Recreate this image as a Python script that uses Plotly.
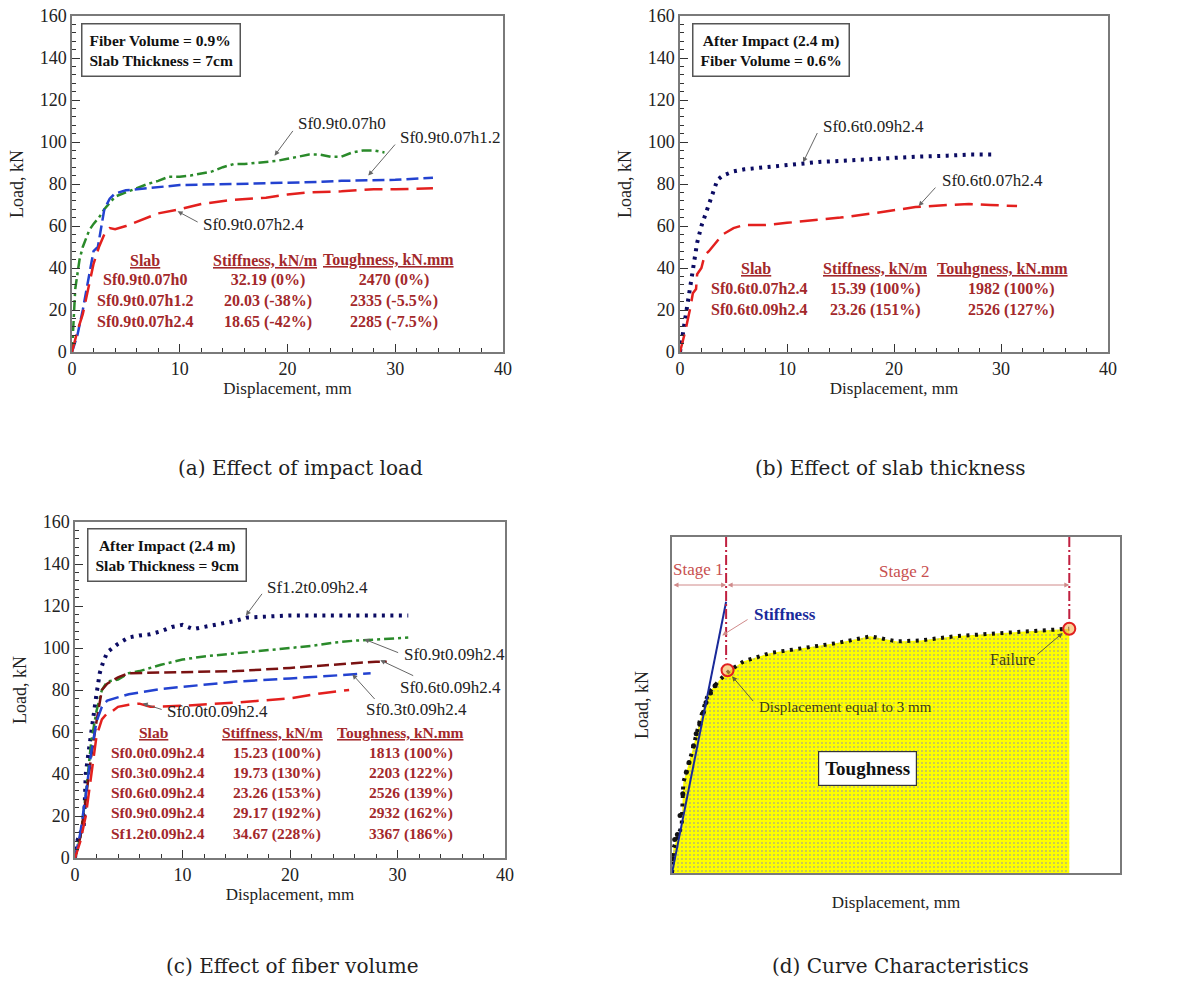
import plotly.graph_objects as go

W, H = 1203, 982

# ---------------- data (a) Effect of impact load ----------------
a_h0_x = [0, 0.1, 0.2, 0.3, 0.5, 0.7, 1.0, 1.3, 1.6, 2.0, 2.5, 3.0, 3.5, 4.0, 5, 6, 7, 8, 9, 10, 11, 12, 13, 14, 15, 16, 17, 18, 19, 20, 21, 22, 23, 24, 25, 26, 27, 28, 29]
a_h0_y = [0, 8, 20, 30, 38, 44, 50, 54, 58, 61, 64, 68, 71, 74, 76, 78, 80, 81.5, 83.5, 83.5, 84, 85, 86, 88, 89.5, 89.5, 90, 90.5, 91, 92, 93, 94, 94, 93, 93, 95, 96, 96, 95]
a_h12_x = [0, 0.5, 1.0, 1.5, 2.0, 2.4, 2.7, 3.0, 3.5, 4.0, 5, 6, 8, 10, 15, 20, 23, 25, 30, 33.5]
a_h12_y = [0, 8, 20, 35, 48, 50, 60, 68, 73, 75.5, 77, 77.5, 78.5, 79.5, 80, 80.5, 81, 81.5, 82, 83]
a_h24_x = [0, 0.5, 1.0, 1.5, 2.0, 2.5, 3.0, 3.5, 4.0, 5, 6, 8, 10, 12, 15, 18, 20, 22, 25, 28, 30, 33.5]
a_h24_y = [0, 10, 18, 30, 42, 50, 56, 59, 58.5, 60, 62, 66, 68, 70.5, 72.5, 73.5, 75, 76, 76.5, 77.5, 77.5, 78]
a_tab_slab = ["Sf0.9t0.07h0", "Sf0.9t0.07h1.2", "Sf0.9t0.07h2.4"]
a_tab_stiff = ["32.19 (0%)", "20.03 (-38%)", "18.65 (-42%)"]
a_tab_tough = ["2470 (0%)", "2335 (-5.5%)", "2285 (-7.5%)"]

# ---------------- data (b) Effect of slab thickness ----------------
b_09_x = [0, 0.3, 0.5, 0.7, 1.0, 1.3, 1.6, 2.0, 2.5, 3.0, 3.5, 4, 5, 6, 8, 10, 11.5, 13, 15, 18, 20, 22, 25, 27, 29.3]
b_09_y = [0, 10, 18, 25, 35, 45, 52, 60, 67, 75, 82, 84, 86, 87, 88, 89, 89.5, 90.5, 91, 92, 92.5, 93, 93.5, 94, 94]
b_07_x = [0, 0.5, 1.0, 1.2, 1.5, 1.6, 2.0, 2.3, 2.7, 3.0, 3.5, 4, 5, 6, 8, 10, 12, 15, 18, 20, 22, 25, 27, 29, 31.5]
b_07_y = [0, 10, 22, 28, 30, 37, 40, 46, 48, 50, 53, 56, 59, 60.5, 60.5, 61.5, 62.5, 64, 66, 67.5, 69, 70, 70.5, 70, 69.5]
b_tab_slab = ["Sf0.6t0.07h2.4", "Sf0.6t0.09h2.4"]
b_tab_stiff = ["15.39 (100%)", "23.26 (151%)"]
b_tab_tough = ["1982 (100%)", "2526 (127%)"]

# ---------------- data (c) Effect of fiber volume ----------------
c_12_x = [0, 0.2, 0.5, 0.8, 0.9, 1.0, 1.2, 1.5, 1.8, 2.0, 2.3, 2.6, 3.0, 3.5, 4, 5, 6, 7, 8, 9, 10, 11, 12, 13, 14, 15, 16, 18, 20, 25, 31]
c_12_y = [0, 8, 12, 14, 25, 40, 48, 60, 70, 78, 88, 93, 98, 100, 102, 105, 106, 106.5, 108, 110, 111, 109, 110, 111, 112, 113, 114.5, 115, 115.5, 115.5, 115.5]
c_09_x = [0, 0.5, 1, 1.5, 2, 2.5, 3, 4, 5, 6, 8, 10, 12, 14, 16, 18, 20, 22, 24, 26, 28, 31]
c_09_y = [0, 10, 30, 55, 70, 80, 84, 85, 88, 89, 92, 94.5, 96, 97, 98, 99, 100, 101, 102.5, 103.5, 104, 105]
c_06_x = [0, 0.5, 1, 1.5, 2, 2.5, 3, 4, 5, 10, 15, 20, 25, 28, 29]
c_06_y = [0, 10, 28, 48, 65, 80, 83, 86, 88, 88.5, 89, 90.5, 92.5, 93.5, 93.5]
c_03_x = [0, 0.5, 1, 1.5, 2, 2.5, 3, 5, 8, 10, 15, 20, 25, 27.5]
c_03_y = [0, 12, 30, 50, 65, 72, 75, 78, 80.5, 81.5, 84, 85.5, 87, 88]
c_00_x = [0, 0.5, 1, 1.5, 2, 2.5, 3, 3.5, 4, 5, 6, 7, 10, 15, 20, 23, 25.5]
c_00_y = [0, 8, 20, 40, 58, 66, 69, 70, 72, 73, 73.5, 72, 72.5, 74, 76, 78.5, 80]
c_tab_slab = ["Sf0.0t0.09h2.4", "Sf0.3t0.09h2.4", "Sf0.6t0.09h2.4", "Sf0.9t0.09h2.4", "Sf1.2t0.09h2.4"]
c_tab_stiff = ["15.23 (100%)", "19.73 (130%)", "23.26 (153%)", "29.17 (192%)", "34.67 (228%)"]
c_tab_tough = ["1813 (100%)", "2203 (122%)", "2526 (139%)", "2932 (162%)", "3367 (186%)"]

# ---------------- data (d) Curve characteristics (schematic) ----------------
d_x = [0, 0.07, 0.54, 0.63, 1.1, 1.57, 2.03, 2.68, 3.24, 4.0, 5.5, 7.34, 9.2, 11.07, 12.57, 13.87, 15.73, 17.6, 19.46, 21.33, 22.17]
d_y = [0, 10, 19.7, 37.7, 50, 64, 75, 80.6, 84.5, 88.2, 91.7, 93.8, 95.8, 98.6, 96.5, 96.9, 98.6, 99.6, 100.7, 101.4, 101.8]
d_sc_x = [0.05, 0.15, 0.3, 0.45, 0.6, 0.8, 0.95, 1.2, 1.35, 1.55, 1.75, 1.9, 2.15, 2.4]
d_sc_y = [6, 14, 16, 24, 33, 42, 46, 53, 58, 62, 67, 71, 75, 78]
d_stiff_x = [0, 3.02]
d_stiff_y = [0, 113]
d_stage1 = 3.02
d_fail_x = 22.17
d_top = 140
d_circle_x = [3.1, 22.17]
d_circle_y = [84.5, 101.8]

# ---------------- styling ----------------
SERIF = "Liberation Serif"
GREEN = "#2a8a2a"
BLUE = "#2342d0"
RED = "#e3201e"
NAVY = "#0b0b63"
MAROON = "#7a1212"
TAB = "#a3282b"
GRAYLINE = "#7a7a7a"
DOTS = "3px,5.5px"


def dom_x(l, r):
    return [l / W, r / W]


def dom_y(t, b):
    return [1 - b / H, 1 - t / H]


def xaxis(dom, anchor, show=True):
    d = dict(domain=dom, anchor=anchor, showgrid=False, zeroline=False,
             showline=True, mirror=True, linecolor=GRAYLINE, linewidth=1.5,
             automargin=False)
    if show:
        d.update(range=[0, 40], dtick=10, ticks="inside", ticklen=8, tickwidth=1,
                 tickcolor="#333", tickfont=dict(family=SERIF, size=18, color="#222"),
                 minor=dict(ticks="inside", dtick=2, ticklen=4, tickcolor="#333"),
                 title=dict(text="Displacement, mm", font=dict(family=SERIF, size=17, color="#222"), standoff=3))
    else:
        d.update(range=[0, 25], showticklabels=False, ticks="",
                 title=dict(text="Displacement, mm", font=dict(family=SERIF, size=17, color="#222"), standoff=22))
    return d


def yaxis(dom, anchor, show=True):
    d = dict(domain=dom, anchor=anchor, showgrid=False, zeroline=False,
             showline=True, mirror=True, linecolor=GRAYLINE, linewidth=1.5,
             automargin=False)
    if show:
        d.update(range=[0, 160], dtick=20, ticks="inside", ticklen=8, tickwidth=1,
                 tickcolor="#333", tickfont=dict(family=SERIF, size=18, color="#222"),
                 minor=dict(ticks="inside", dtick=4, ticklen=4, tickcolor="#333"),
                 title=dict(text="Load, kN", font=dict(family=SERIF, size=18, color="#222"), standoff=11))
    else:
        d.update(range=[0, d_top], showticklabels=False, ticks="",
                 title=dict(text="Load, kN", font=dict(family=SERIF, size=18, color="#222"), standoff=17))
    return d


fig = go.Figure()


def line(x, y, color, dash, width, xa, ya, name):
    fig.add_trace(go.Scatter(x=x, y=y, mode="lines", name=name, xaxis=xa, yaxis=ya,
                             line=dict(color=color, dash=dash, width=width), showlegend=False))


# (a)
line(a_h0_x, a_h0_y, GREEN, "10px,4px,3px,4px", 2.5, "x", "y", "Sf0.9t0.07h0")
line(a_h12_x, a_h12_y, BLUE, "12px,5px", 2.5, "x", "y", "Sf0.9t0.07h1.2")
line(a_h24_x, a_h24_y, RED, "18px,8px", 2.5, "x", "y", "Sf0.9t0.07h2.4")
# (b)
line(b_09_x, b_09_y, NAVY, DOTS, 4, "x2", "y2", "Sf0.6t0.09h2.4")
line(b_07_x, b_07_y, RED, "18px,8px", 2.5, "x2", "y2", "Sf0.6t0.07h2.4")
# (c)
line(c_12_x, c_12_y, NAVY, DOTS, 4, "x3", "y3", "Sf1.2t0.09h2.4")
line(c_09_x, c_09_y, GREEN, "10px,4px,3px,4px", 2.5, "x3", "y3", "Sf0.9t0.09h2.4")
line(c_06_x, c_06_y, MAROON, "12px,5px", 2.5, "x3", "y3", "Sf0.6t0.09h2.4")
line(c_03_x, c_03_y, BLUE, "14px,6px", 2.5, "x3", "y3", "Sf0.3t0.09h2.4")
line(c_00_x, c_00_y, RED, "18px,8px", 2.5, "x3", "y3", "Sf0.0t0.09h2.4")

# (d)
fig.add_trace(go.Scatter(x=d_x, y=d_y, mode="lines", xaxis="x4", yaxis="y4", showlegend=False,
                         fill="tozeroy", fillcolor="#ffff00",
                         fillpattern=dict(shape=".", bgcolor="#ffff00", fgcolor="#b8b870", size=4, solidity=0.18),
                         line=dict(color="#111111", dash=DOTS, width=4)))
fig.add_trace(go.Scatter(x=d_sc_x, y=d_sc_y, mode="markers", xaxis="x4", yaxis="y4", showlegend=False,
                         marker=dict(color="#111111", size=5)))
fig.add_trace(go.Scatter(x=d_stiff_x, y=d_stiff_y, mode="lines", xaxis="x4", yaxis="y4", showlegend=False,
                         line=dict(color="#1a2a9a", width=2)))
fig.add_trace(go.Scatter(x=[d_stage1, d_stage1], y=[d_top, 89], mode="lines", xaxis="x4", yaxis="y4",
                         showlegend=False, line=dict(color="#c02040", dash="10px,3px,2px,3px", width=2)))
fig.add_trace(go.Scatter(x=[d_fail_x, d_fail_x], y=[d_top, 104], mode="lines", xaxis="x4", yaxis="y4",
                         showlegend=False, line=dict(color="#c02040", dash="10px,3px,2px,3px", width=2)))
fig.add_trace(go.Scatter(x=d_circle_x, y=d_circle_y, mode="markers", xaxis="x4", yaxis="y4", showlegend=False,
                         marker=dict(symbol="circle", size=12, color="rgba(245,180,80,0.6)",
                                     line=dict(color="#e02020", width=2))))

# ---------------- layout ----------------
fig.update_layout(
    width=W, height=H, template="none",
    margin=dict(l=0, r=0, t=0, b=0),
    paper_bgcolor="white", plot_bgcolor="white",
    xaxis=xaxis(dom_x(72, 503), "y"), yaxis=yaxis(dom_y(16, 352), "x"),
    xaxis2=xaxis(dom_x(680, 1108), "y2"), yaxis2=yaxis(dom_y(16, 352), "x2"),
    xaxis3=xaxis(dom_x(75, 505), "y3"), yaxis3=yaxis(dom_y(522, 858), "x3"),
    xaxis4=xaxis(dom_x(672, 1120), "y4", show=False), yaxis4=yaxis(dom_y(537, 873), "x4", show=False),
)

ann = []


def text(xr, yr, x, y, t, size=17, color="#222", xanchor="left", yanchor="middle", align="left", bold=False, **kw):
    if bold:
        t = "<b>" + t + "</b>"
    d = dict(xref=xr, yref=yr, x=x, y=y, text=t, showarrow=False, xanchor=xanchor, yanchor=yanchor,
             align=align, font=dict(family=SERIF, size=size, color=color))
    d.update(kw)
    ann.append(d)


def arrow(xr, yr, x0, y0, x1, y1, color="#666", side="end", width=1):
    ann.append(dict(xref=xr, yref=yr, axref=xr, ayref=yr, x=x1, y=y1, ax=x0, ay=y0, text="",
                    showarrow=True, arrowhead=2, arrowsize=1, arrowwidth=width, arrowcolor=color,
                    arrowside=side, standoff=0, startstandoff=0))


def box(xr, yr, x, y, t, align="left"):
    ann.append(dict(xref=xr, yref=yr, x=x, y=y, text="<b>" + t + "</b>", showarrow=False,
                    xanchor="left", yanchor="top", align=align, bordercolor="#555", borderwidth=1.5,
                    borderpad=7, bgcolor="white", font=dict(family=SERIF, size=15.5, color="#111")))


def table(xr, yr, cols, y_top, size):
    for head, vals, hx, hanchor, vx, vanchor in cols:
        text(xr, yr, hx, y_top, "<u>" + head + "</u>", size=size, color=TAB, xanchor=hanchor,
             yanchor="middle", align="center", bold=True)
        text(xr, yr, vx, y_top, "<br>".join(vals), size=size, color=TAB, xanchor=vanchor,
             yanchor="top", align="center" if vanchor == "center" else vanchor, bold=True, yshift=-9)


# (a) annotations
box("x", "y", 0.8, 156.5, "Fiber Volume = 0.9%<br>Slab Thickness = 7cm")
text("x", "y", 20.8, 109, "Sf0.9t0.07h0")
arrow("x", "y", 20.6, 106, 18.8, 93.5)
text("x", "y", 30.3, 102, "Sf0.9t0.07h1.2")
arrow("x", "y", 30.1, 99.5, 27.5, 84)
text("x", "y", 12.0, 60.5, "Sf0.9t0.07h2.4")
arrow("x", "y", 11.8, 61.5, 9.8, 67)
table("x", "y", [("Slab", a_tab_slab, 6.8, "center", 6.8, "center"),
                 ("Stiffness, kN/m", a_tab_stiff, 18.0, "center", 18.2, "center"),
                 ("Toughness, kN.mm", a_tab_tough, 29.4, "center", 29.9, "center")], 43.6, 16)

# (b) annotations
box("x2", "y2", 1.1, 156.8, "After Impact (2.4 m)<br>Fiber Volume = 0.6%", align="center")
text("x2", "y2", 13.2, 107.3, "Sf0.6t0.09h2.4")
arrow("x2", "y2", 12.9, 105, 11.5, 90.3)
text("x2", "y2", 24.3, 81.6, "Sf0.6t0.07h2.4")
arrow("x2", "y2", 24.0, 79, 22.3, 69.5)
table("x2", "y2", [("Slab", b_tab_slab, 7.1, "center", 7.4, "center"),
                   ("Stiffness, kN/m", b_tab_stiff, 18.3, "center", 22.7, "right"),
                   ("Touhgness, kN.mm", b_tab_tough, 30.1, "center", 35.2, "right")], 39.6, 16)

# (c) annotations
box("x3", "y3", 1.1, 157.2, "After Impact (2.4 m)<br>Slab Thickness = 9cm", align="center")
text("x3", "y3", 17.7, 128.7, "Sf1.2t0.09h2.4")
arrow("x3", "y3", 17.5, 126.5, 15.9, 115.5)
text("x3", "y3", 30.4, 96.8, "Sf0.9t0.09h2.4")
arrow("x3", "y3", 30.2, 97.5, 26.9, 104.2)
text("x3", "y3", 30.0, 81.0, "Sf0.6t0.09h2.4")
arrow("x3", "y3", 31.6, 86.5, 28.4, 94.2)
text("x3", "y3", 26.9, 70.7, "Sf0.3t0.09h2.4")
arrow("x3", "y3", 28.0, 75.0, 25.8, 87.5)
text("x3", "y3", 8.35, 69.6, "Sf0.0t0.09h2.4")
arrow("x3", "y3", 8.2, 70.5, 6.3, 73.6)
table("x3", "y3", [("Slab", c_tab_slab, 7.3, "center", 7.7, "center"),
                   ("Stiffness, kN/m", c_tab_stiff, 18.35, "center", 23.1, "right"),
                   ("Toughness, kN.mm", c_tab_tough, 30.3, "center", 31.3, "center")], 59.6, 15.5)

# (d) annotations
arrow("x4", "y4", 0, 120, d_stage1, 120, color="#d08a8a", side="end+start")
arrow("x4", "y4", d_stage1, 120, d_fail_x, 120, color="#d08a8a", side="end+start")
text("x4", "y4", 1.5, 126.5, "Stage 1", size=17, color="#c85050", xanchor="center")
text("x4", "y4", 13.0, 125.5, "Stage 2", size=17, color="#c85050", xanchor="center")
text("x4", "y4", 4.46, 107.6, "Stiffness", size=17, color="#1a2a9a", bold=True)
arrow("x4", "y4", 4.3, 106, 2.8, 99, color="#d08a8a")
text("x4", "y4", 4.74, 69, "Displacement equal to 3 mm", size=15, color="#404010")
arrow("x4", "y4", 4.6, 71, 3.35, 82, color="#606030")
text("x4", "y4", 19.0, 89, "Failure", size=16, color="#404010", xanchor="center")
arrow("x4", "y4", 20.3, 90.5, 21.8, 100, color="#606030")
ann.append(dict(xref="x4", yref="y4", x=10.9, y=43.5, text="<b>Toughness</b>", showarrow=False,
                bordercolor="#333", borderwidth=1.2, borderpad=6, bgcolor="white",
                font=dict(family=SERIF, size=19, color="#111")))

# captions
CAP = dict(family="DejaVu Serif", size=20, color="#222")
for cx, cy, t in [(300, 468, "(a) Effect of impact load"), (890, 468, "(b) Effect of slab thickness"),
                  (292, 966, "(c) Effect of fiber volume"), (900, 966, "(d) Curve Characteristics")]:
    ann.append(dict(xref="paper", yref="paper", x=cx / W, y=1 - cy / H, text=t, showarrow=False,
                    xanchor="center", yanchor="middle", font=CAP))

fig.update_layout(annotations=ann)
fig.write_html("out.html")
